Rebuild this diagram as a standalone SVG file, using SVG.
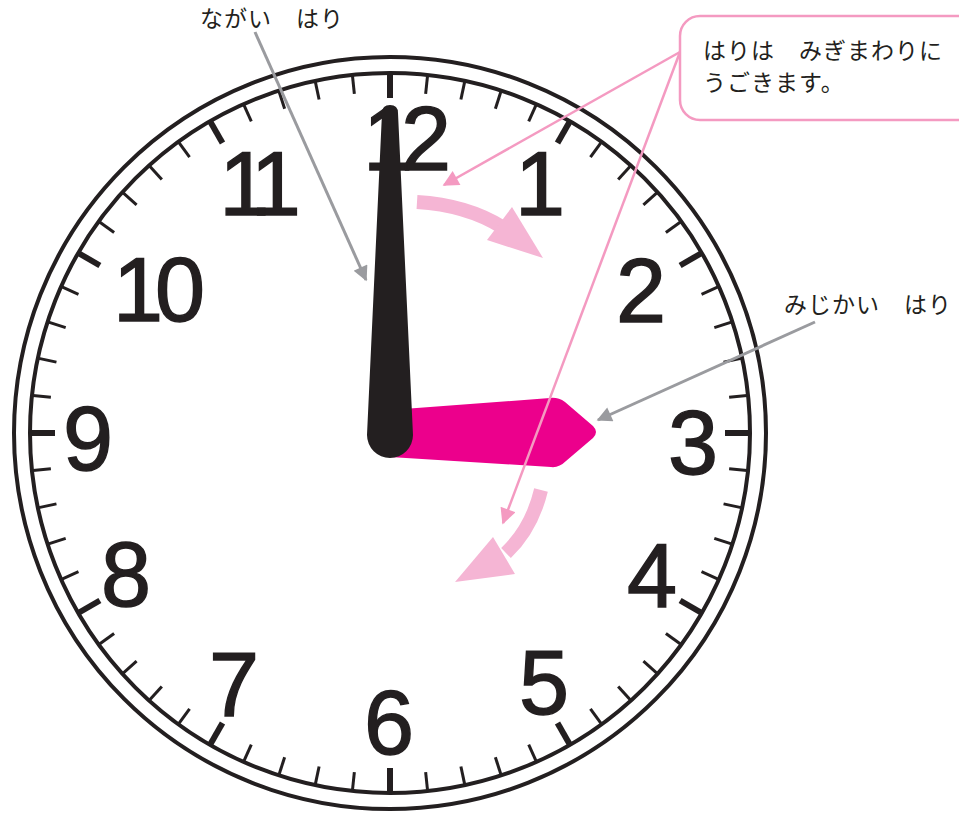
<svg xmlns="http://www.w3.org/2000/svg" width="959" height="816" viewBox="0 0 959 816">
<defs>
<style>
.num{font-family:"Liberation Sans","DejaVu Sans",sans-serif;font-size:90px;fill:#231f20;stroke:#231f20;stroke-width:1.4;text-anchor:middle}
.lbl{font-family:"Noto Sans CJK JP","Noto Sans",sans-serif;font-size:23px;letter-spacing:1px;fill:#231f20}
.ring{fill:none;stroke:#231f20;stroke-width:4}
.minor{stroke:#231f20;stroke-width:3}
.major{stroke:#231f20;stroke-width:6}
.gline{stroke:#9a9b9f;stroke-width:3;fill:none}
.pline{stroke:#f49ac1;stroke-width:2.5;fill:none}
.band{stroke:#f5b5d4;stroke-width:14;fill:none}
.head{fill:#f5b5d4}
</style>
<marker id="ga" viewBox="0 0 10 10" refX="9" refY="5" markerWidth="22" markerHeight="15" markerUnits="userSpaceOnUse" orient="auto"><path d="M0,0 L10,5 L0,10 Z" fill="#9a9b9f"/></marker>
<marker id="pa" viewBox="0 0 10 10" refX="9" refY="5" markerWidth="24" markerHeight="16" markerUnits="userSpaceOnUse" orient="auto"><path d="M0,0 L10,5 L0,10 Z" fill="#f49ac1"/></marker>
</defs>
<rect width="959" height="816" fill="#fff"/>
<g id="clock-face">
<circle class="ring" cx="390" cy="433" r="376" fill="#fff"/>
<circle class="ring" cx="390" cy="433" r="360"/>
<g id="ticks" transform="translate(390,433)">
<g id="minor-ticks">
<line class="minor" x1="0" y1="-359" x2="0" y2="-341" transform="rotate(6)"/>
<line class="minor" x1="0" y1="-359" x2="0" y2="-341" transform="rotate(12)"/>
<line class="minor" x1="0" y1="-359" x2="0" y2="-341" transform="rotate(18)"/>
<line class="minor" x1="0" y1="-359" x2="0" y2="-341" transform="rotate(24)"/>
<line class="minor" x1="0" y1="-359" x2="0" y2="-341" transform="rotate(36)"/>
<line class="minor" x1="0" y1="-359" x2="0" y2="-341" transform="rotate(42)"/>
<line class="minor" x1="0" y1="-359" x2="0" y2="-341" transform="rotate(48)"/>
<line class="minor" x1="0" y1="-359" x2="0" y2="-341" transform="rotate(54)"/>
<line class="minor" x1="0" y1="-359" x2="0" y2="-341" transform="rotate(66)"/>
<line class="minor" x1="0" y1="-359" x2="0" y2="-341" transform="rotate(72)"/>
<line class="minor" x1="0" y1="-359" x2="0" y2="-341" transform="rotate(78)"/>
<line class="minor" x1="0" y1="-359" x2="0" y2="-341" transform="rotate(84)"/>
<line class="minor" x1="0" y1="-359" x2="0" y2="-341" transform="rotate(96)"/>
<line class="minor" x1="0" y1="-359" x2="0" y2="-341" transform="rotate(102)"/>
<line class="minor" x1="0" y1="-359" x2="0" y2="-341" transform="rotate(108)"/>
<line class="minor" x1="0" y1="-359" x2="0" y2="-341" transform="rotate(114)"/>
<line class="minor" x1="0" y1="-359" x2="0" y2="-341" transform="rotate(126)"/>
<line class="minor" x1="0" y1="-359" x2="0" y2="-341" transform="rotate(132)"/>
<line class="minor" x1="0" y1="-359" x2="0" y2="-341" transform="rotate(138)"/>
<line class="minor" x1="0" y1="-359" x2="0" y2="-341" transform="rotate(144)"/>
<line class="minor" x1="0" y1="-359" x2="0" y2="-341" transform="rotate(156)"/>
<line class="minor" x1="0" y1="-359" x2="0" y2="-341" transform="rotate(162)"/>
<line class="minor" x1="0" y1="-359" x2="0" y2="-341" transform="rotate(168)"/>
<line class="minor" x1="0" y1="-359" x2="0" y2="-341" transform="rotate(174)"/>
<line class="minor" x1="0" y1="-359" x2="0" y2="-341" transform="rotate(186)"/>
<line class="minor" x1="0" y1="-359" x2="0" y2="-341" transform="rotate(192)"/>
<line class="minor" x1="0" y1="-359" x2="0" y2="-341" transform="rotate(198)"/>
<line class="minor" x1="0" y1="-359" x2="0" y2="-341" transform="rotate(204)"/>
<line class="minor" x1="0" y1="-359" x2="0" y2="-341" transform="rotate(216)"/>
<line class="minor" x1="0" y1="-359" x2="0" y2="-341" transform="rotate(222)"/>
<line class="minor" x1="0" y1="-359" x2="0" y2="-341" transform="rotate(228)"/>
<line class="minor" x1="0" y1="-359" x2="0" y2="-341" transform="rotate(234)"/>
<line class="minor" x1="0" y1="-359" x2="0" y2="-341" transform="rotate(246)"/>
<line class="minor" x1="0" y1="-359" x2="0" y2="-341" transform="rotate(252)"/>
<line class="minor" x1="0" y1="-359" x2="0" y2="-341" transform="rotate(258)"/>
<line class="minor" x1="0" y1="-359" x2="0" y2="-341" transform="rotate(264)"/>
<line class="minor" x1="0" y1="-359" x2="0" y2="-341" transform="rotate(276)"/>
<line class="minor" x1="0" y1="-359" x2="0" y2="-341" transform="rotate(282)"/>
<line class="minor" x1="0" y1="-359" x2="0" y2="-341" transform="rotate(288)"/>
<line class="minor" x1="0" y1="-359" x2="0" y2="-341" transform="rotate(294)"/>
<line class="minor" x1="0" y1="-359" x2="0" y2="-341" transform="rotate(306)"/>
<line class="minor" x1="0" y1="-359" x2="0" y2="-341" transform="rotate(312)"/>
<line class="minor" x1="0" y1="-359" x2="0" y2="-341" transform="rotate(318)"/>
<line class="minor" x1="0" y1="-359" x2="0" y2="-341" transform="rotate(324)"/>
<line class="minor" x1="0" y1="-359" x2="0" y2="-341" transform="rotate(336)"/>
<line class="minor" x1="0" y1="-359" x2="0" y2="-341" transform="rotate(342)"/>
<line class="minor" x1="0" y1="-359" x2="0" y2="-341" transform="rotate(348)"/>
<line class="minor" x1="0" y1="-359" x2="0" y2="-341" transform="rotate(354)"/>
</g>
<g id="major-ticks">
<line class="major" x1="0" y1="-359" x2="0" y2="-335"/>
<line class="major" x1="0" y1="-359" x2="0" y2="-335" transform="rotate(30)"/>
<line class="major" x1="0" y1="-359" x2="0" y2="-335" transform="rotate(60)"/>
<line class="major" x1="0" y1="-359" x2="0" y2="-335" transform="rotate(90)"/>
<line class="major" x1="0" y1="-359" x2="0" y2="-335" transform="rotate(120)"/>
<line class="major" x1="0" y1="-359" x2="0" y2="-335" transform="rotate(150)"/>
<line class="major" x1="0" y1="-359" x2="0" y2="-335" transform="rotate(180)"/>
<line class="major" x1="0" y1="-359" x2="0" y2="-335" transform="rotate(210)"/>
<line class="major" x1="0" y1="-359" x2="0" y2="-335" transform="rotate(240)"/>
<line class="major" x1="0" y1="-359" x2="0" y2="-335" transform="rotate(270)"/>
<line class="major" x1="0" y1="-359" x2="0" y2="-335" transform="rotate(300)"/>
<line class="major" x1="0" y1="-359" x2="0" y2="-335" transform="rotate(330)"/>
</g>
</g>
<g id="numbers">
<text class="num" x="401" y="170" letter-spacing="-12">12</text>
<text class="num" x="540" y="215">1</text>
<text class="num" x="641" y="322">2</text>
<text class="num" x="693" y="474">3</text>
<text class="num" x="652" y="607">4</text>
<text class="num" x="544" y="714">5</text>
<text class="num" x="389" y="754">6</text>
<text class="num" x="234" y="716">7</text>
<text class="num" x="126" y="606">8</text>
<text class="num" x="88" y="470">9</text>
<text class="num" x="155" y="321" letter-spacing="-8">10</text>
<text class="num" x="254" y="215" letter-spacing="-12">11</text>
</g>
</g>
<g id="curved-arrows">
<g id="arrow-upper">
<path class="band" d="M417,202 C450,204 478,212 502,227"/>
<path class="head" d="M512,207 L543,258 L487,240 Z"/>
</g>
<g id="arrow-lower">
<path class="band" d="M541,490 C535,515 525,535 506,553"/>
<path class="head" d="M493,537 L455,582 L515,574 Z"/>
</g>
</g>
<g id="hour-hand">
<path d="M390,410 L550,398 Q558,397 565,402 L593,426 Q599,432 593,438 L566,461 Q559,468 551,467 L390,457 Z" fill="#ec008c"/>
</g>
<g id="minute-hand">
<path d="M382,113 Q382,105 390,105 Q398,105 398,113 L413,435 A23,23 0 0 1 367,435 Z" fill="#231f20"/>
</g>
<g id="connectors">
<line class="gline" x1="255" y1="32" x2="366" y2="280" marker-end="url(#ga)"/>
<line class="gline" x1="815" y1="322" x2="598" y2="420" marker-end="url(#ga)"/>
<line class="pline" x1="680" y1="52" x2="444" y2="185" marker-end="url(#pa)"/>
<line class="pline" x1="680" y1="52" x2="503" y2="523" marker-end="url(#pa)"/>
</g>
<g id="label-long">
<text class="lbl" x="200" y="27">ながい　はり</text>
</g>
<g id="label-short">
<text class="lbl" x="784" y="313">みじかい　はり</text>
</g>
<g id="callout">
<rect x="680" y="16" width="300" height="104" rx="20" ry="20" fill="#fff" stroke="#f49ac1" stroke-width="2.5"/>
<text class="lbl" x="703" y="59">はりは　みぎまわりに</text>
<text class="lbl" x="703" y="91">うごきます。</text>
</g>
</svg>
